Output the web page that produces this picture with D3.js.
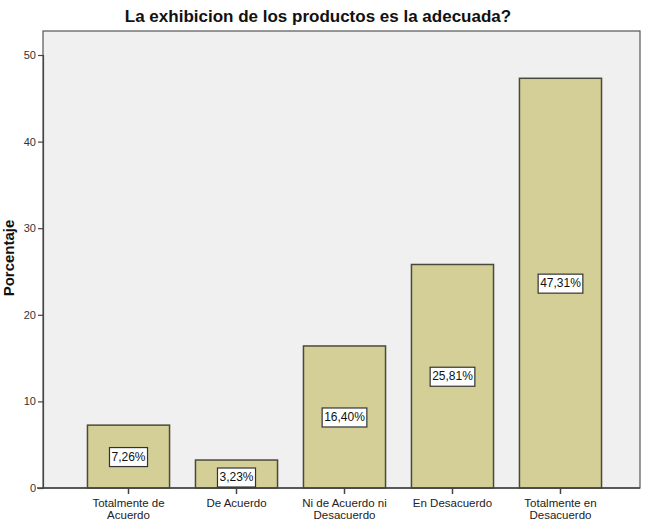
<!DOCTYPE html>
<html><head><meta charset="utf-8">
<script src="https://cdn.jsdelivr.net/npm/d3@7"></script>
<style>body{margin:0;background:#fff}svg{display:block}</style>
</head><body>
<svg id="c" width="647" height="528"></svg>
<script>
const categories = [["Totalmente de","Acuerdo"],["De Acuerdo"],["Ni de Acuerdo ni","Desacuerdo"],["En Desacuerdo"],["Totalmente en","Desacuerdo"]];
const values = [7.26, 3.23, 16.40, 25.81, 47.31];
const valueLabels = ["7,26%","3,23%","16,40%","25,81%","47,31%"];
const yTicks = [0,10,20,30,40,50];
const title = "La exhibicion de los productos es la adecuada?";
const yTitle = "Porcentaje";

const svg = d3.select("#c");
const L = 43, R = 640, T = 31, B = 488;
const idx = d3.range(values.length);
const x = d3.scaleBand().domain(idx).range([L + 3, R + 3]).paddingInner(0.24).paddingOuter(0.384);
const y = d3.scaleLinear().domain([0, 50]).range([B, B - 50*8.66]);

svg.append("rect").attr("x", L).attr("y", T).attr("width", R-L).attr("height", B-T)
  .attr("fill", "#f0f0f0").attr("stroke", "#555").attr("stroke-width", 1.2);

svg.append("text").attr("x", 318).attr("y", 22).attr("text-anchor","middle")
  .attr("font-family","Liberation Sans, Arial").attr("font-weight","bold").attr("font-size",17)
  .attr("fill","#111").text(title);

const ya = svg.append("g").attr("transform", `translate(${L},0)`)
  .call(d3.axisLeft(y).tickValues(yTicks).tickSize(5).tickPadding(2));
ya.select(".domain").attr("stroke","#444").attr("stroke-width",1.2);
ya.selectAll(".tick line").attr("stroke","#444").attr("stroke-width",1.2);
ya.selectAll("text").attr("font-family","Liberation Sans, Arial").attr("font-size",11).attr("fill","#333");

svg.append("text").attr("transform", `translate(14,258) rotate(-90)`).attr("text-anchor","middle")
  .attr("font-family","Liberation Sans, Arial").attr("font-weight","bold").attr("font-size",15)
  .attr("fill","#111").text(yTitle);

svg.selectAll(".bar").data(idx).join("rect").attr("class","bar")
  .attr("x", i => x(i)).attr("width", x.bandwidth())
  .attr("y", i => y(values[i])).attr("height", i => B - y(values[i]))
  .attr("fill","#d3cf96").attr("stroke","#4a4a3c").attr("stroke-width",1.5);

const xa = svg.append("g").attr("transform", `translate(0,${B})`)
  .call(d3.axisBottom(x).tickSize(6).tickFormat(""));
xa.select(".domain").remove();
svg.append("line").attr("x1",L-6).attr("x2",R).attr("y1",B).attr("y2",B).attr("stroke","#444").attr("stroke-width",1.5);
xa.selectAll(".tick line").attr("stroke","#444").attr("stroke-width",1.5);

idx.forEach(i => {
  const cx = x(i) + x.bandwidth()/2;
  const t = svg.append("text").attr("x", cx).attr("y", 507).attr("text-anchor","middle")
    .attr("font-family","Liberation Sans, Arial").attr("font-size",11.5).attr("fill","#222");
  categories[i].forEach((line, k) => t.append("tspan").attr("x", cx).attr("dy", k ? 12 : 0).text(line));
});

idx.forEach(i => {
  const cx = x(i) + x.bandwidth()/2;
  const cy = (y(values[i]) + B) / 2 + (i === 1 ? 3 : 0);
  const g = svg.append("g");
  const tx = g.append("text").attr("x", cx).attr("y", cy + 4).attr("text-anchor","middle")
    .attr("font-family","Liberation Sans, Arial").attr("font-size",12).attr("fill","#111").text(valueLabels[i]);
  const w = tx.node().getComputedTextLength();
  g.insert("rect","text").attr("x", cx - w/2 - 2).attr("y", cy - 9).attr("width", w + 4).attr("height", 19)
    .attr("fill","#fff").attr("stroke","#333").attr("stroke-width",1.2);
});
</script>
</body></html>
